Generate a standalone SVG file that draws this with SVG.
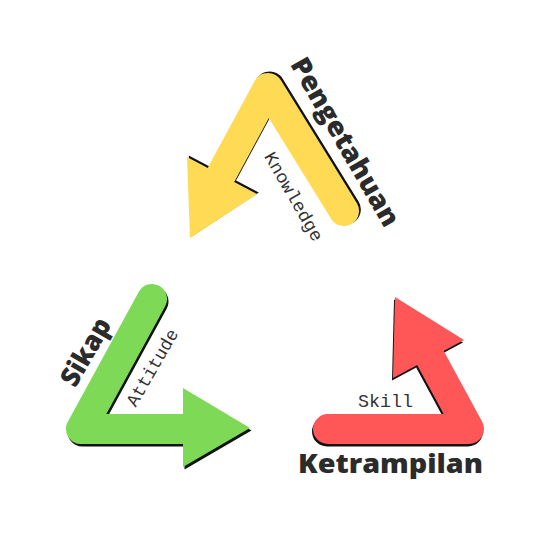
<svg xmlns="http://www.w3.org/2000/svg" xmlns:xlink="http://www.w3.org/1999/xlink" width="540" height="540" viewBox="0 0 540 540">
<style>
.shaft{fill:none;stroke:currentColor;stroke-width:30;stroke-linecap:round;stroke-linejoin:round}
.head{fill:currentColor;stroke:none}
.title{font-family:"Open Sans","Liberation Sans",sans-serif;font-weight:800;font-size:27px;fill:#2b2b2b}
.sub{font-family:"Liberation Mono","DejaVu Sans Mono",monospace;font-size:18px;fill:#333}
</style>
<defs>
<g id="yellowShape">
<polyline class="shaft" points="222,173 268,88 344,211"/>
<polygon class="head" points="187,157 257,194 190,238"/>
</g>
<g id="greenShape">
<polyline class="shaft" points="152,299 81,429 185,429"/>
<polygon class="head" points="183,388 250,428 183,467"/>
</g>
<g id="redShape">
<polyline class="shaft" points="328,429 469,429 431,359"/>
<polygon class="head" points="393,378 464,340 395,297"/>
</g>
</defs>
<rect width="540" height="540" fill="#ffffff"/>
<g id="connectors"></g>
<g id="pengetahuan">
<use xlink:href="#yellowShape" href="#yellowShape" transform="translate(1.8,-1.5)" style="color:#111"/>
<use xlink:href="#yellowShape" href="#yellowShape" style="color:#FFDA55"/>
<text class="title" transform="translate(345,142) rotate(60)" text-anchor="middle" y="9" textLength="190" lengthAdjust="spacingAndGlyphs">Pengetahuan</text>
<text class="sub" transform="translate(293,197) rotate(60)" text-anchor="middle" y="5" textLength="100" lengthAdjust="spacingAndGlyphs">Knowledge</text>
</g>
<g id="sikap">
<use xlink:href="#greenShape" href="#greenShape" transform="translate(1.5,2.5)" style="color:#111"/>
<use xlink:href="#greenShape" href="#greenShape" style="color:#7ED957"/>
<text class="title" transform="translate(86,352) rotate(-60)" text-anchor="middle" y="9" textLength="74" lengthAdjust="spacingAndGlyphs">Sikap</text>
<text class="sub" transform="translate(153,368) rotate(-60)" text-anchor="middle" y="5" textLength="86" lengthAdjust="spacingAndGlyphs">Attitude</text>
</g>
<g id="ketrampilan">
<use xlink:href="#redShape" href="#redShape" transform="translate(-1,2.5)" style="color:#111"/>
<use xlink:href="#redShape" href="#redShape" style="color:#FF5757"/>
<text class="title" x="298" y="473" textLength="185" lengthAdjust="spacingAndGlyphs">Ketrampilan</text>
<text class="sub" x="358" y="407" textLength="55" lengthAdjust="spacingAndGlyphs">Skill</text>
</g>
</svg>
